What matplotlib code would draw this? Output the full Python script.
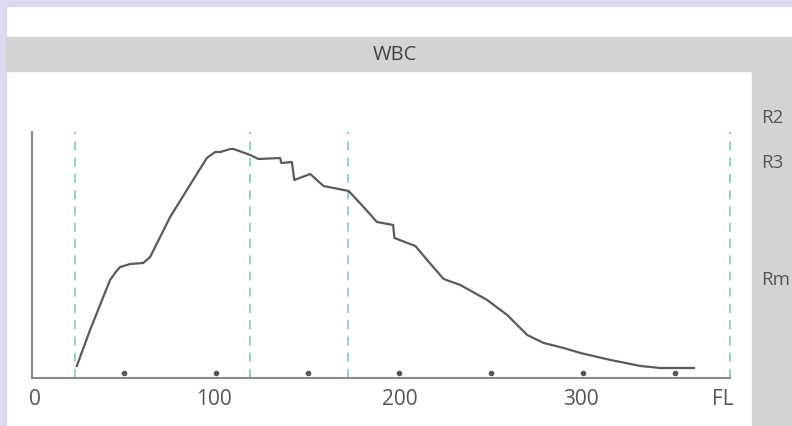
import numpy as np
import matplotlib
matplotlib.use("Agg")
import matplotlib.pyplot as plt
from matplotlib.patches import Rectangle

plt.rcParams['font.family'] = ['Open Sans', 'DejaVu Sans']

# WBC histogram curve (FL in fL, counts in arbitrary units)
fl = [24.4, 31.6, 42.5, 46.0, 48.0, 53.4, 60.5, 64.3, 75.2, 87.7, 95.2, 99.7, 102.5,
      107.9, 109.7, 118.8, 123.3, 135.1, 135.7, 141.5, 142.8, 151.5, 158.7,
      172.4, 180.5, 187.8, 196.6, 197.3, 208.7, 215.1, 224.1, 233.2, 247.8,
      258.7, 269.6, 278.6, 289.5, 298.6, 315.0, 331.3, 342.2, 360.4]
counts = [12, 48, 98, 107, 111, 114, 115, 121, 161, 198, 220, 226, 226,
          229, 229, 223, 219, 220, 215, 216, 198, 204, 192,
          187, 171, 156, 153, 140, 132, 118, 99, 93, 78,
          63, 43, 35, 30, 25, 18, 12, 10, 10]

# discriminator lines
region_lines = [23.4, 118.8, 172.0, 380.0]
dot_marks = [50, 100, 150, 200, 250, 300, 350]

tick_pos = [1.6, 99, 200.5, 299, 376]
tick_labels = ['0', '100', '200', '300', 'FL']
side_labels = ['R2', 'R3', 'Rm']

W, H = 792, 426
fig = plt.figure(figsize=(W / 100, H / 100), dpi=100)
fig.patch.set_facecolor('white')

def px_rect(x0, y0, x1, y1, color):
    fig.patches.append(Rectangle((x0 / W, 1 - y1 / H), (x1 - x0) / W, (y1 - y0) / H,
                                 transform=fig.transFigure, color=color, zorder=0))

lav = '#dcdaf0'
grey = '#d1d3d4'
px_rect(0, 0, W, 6, lav)
px_rect(0, 0, 6, H, lav)
px_rect(6, 37, W, 71, grey)
px_rect(752, 71, W, H, grey)

fig.text(395 / W, 1 - 55 / H, 'WBC', ha='center', va='center', fontsize=14.5, color='#444444')
for lab, yy in zip(side_labels, [118, 163, 280]):
    fig.text(761 / W, 1 - yy / H, lab, ha='left', va='center', fontsize=13.5, color='#555555')

ax = fig.add_axes([32 / W, (H - 378) / H, 698 / W, 246 / H])
ax.set_xlim(0, 380)
ax.set_ylim(0, 246)
ax.patch.set_alpha(0)

for x in region_lines:
    ax.axvline(x, color='#86d0d0', lw=1.3, ls=(0, (5, 4)), zorder=1, clip_on=False)

ax.plot(fl, counts, color='#5a5a5a', lw=1.6, zorder=3, solid_joinstyle='round')
ax.plot(dot_marks, [5.5] * len(dot_marks), 'o', color='#555555', ms=3, zorder=3)

for s in ['top', 'right']:
    ax.spines[s].set_visible(False)
for s in ['left', 'bottom']:
    ax.spines[s].set_color('#8a8a8a')
    ax.spines[s].set_linewidth(1.5)
ax.set_yticks([])
ax.set_xticks(tick_pos)
ax.set_xticklabels(tick_labels)
ax.tick_params(axis='x', length=0, pad=8, labelsize=15, labelcolor='#555555')

fig.savefig('out.png', dpi=100)
